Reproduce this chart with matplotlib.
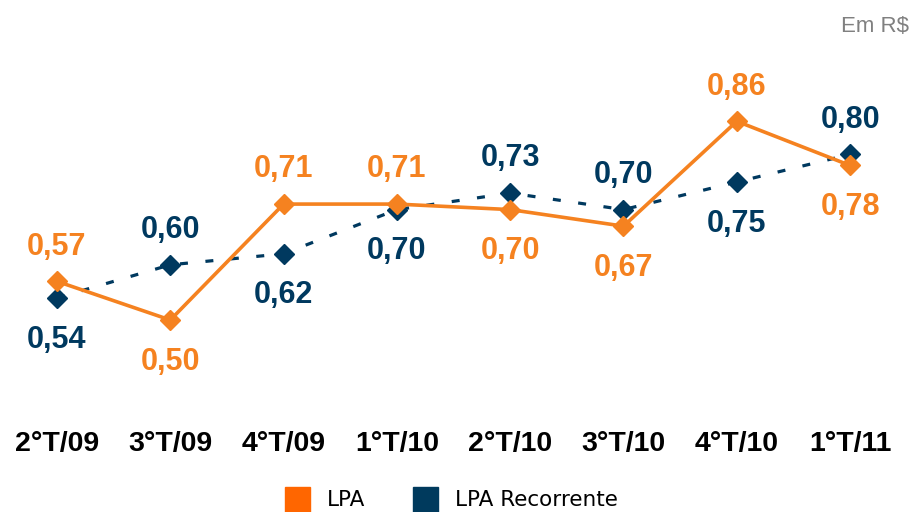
import matplotlib.pyplot as plt
from matplotlib.lines import Line2D

# dados
trimestres = ['2°T/09', '3°T/09', '4°T/09', '1°T/10', '2°T/10', '3°T/10', '4°T/10', '1°T/11']
lpa = [0.57, 0.50, 0.71, 0.71, 0.70, 0.67, 0.86, 0.78]
lpa_recorrente = [0.54, 0.60, 0.62, 0.70, 0.73, 0.70, 0.75, 0.80]

# posicao dos rotulos: 1 = acima, -1 = abaixo
lado_lpa = [1, -1, 1, 1, -1, -1, 1, -1]
lado_rec = [-1, 1, -1, -1, 1, 1, -1, 1]

laranja = '#F58220'
azul = '#00395F'

plt.rcParams['font.family'] = ['Liberation Sans', 'DejaVu Sans']

fig = plt.figure(figsize=(9.15, 5.12), dpi=100)
ax = fig.add_axes([0, 0, 1, 1])
ax.set_xlim(-0.503, 7.573)
ax.set_ylim(0.1522, 1.0797)
ax.axis('off')

x = list(range(len(trimestres)))

ax.plot(x, lpa_recorrente, color=azul, lw=2.3, linestyle=(0, (2.5, 5.5)),
        marker='D', markersize=10.5, zorder=2)
ax.plot(x, lpa, color=laranja, lw=2.6, marker='D', markersize=10.5, zorder=3)

def rotulos(valores, lados, cor):
    for i, v in enumerate(valores):
        dy = 25 if lados[i] > 0 else -30
        ax.annotate(f'{v:.2f}'.replace('.', ','), (i, v), xytext=(0, dy),
                    textcoords='offset points', ha='center', va='center',
                    fontsize=22, fontweight='bold', color=cor)

rotulos(lpa, lado_lpa, laranja)
rotulos(lpa_recorrente, lado_rec, azul)

# eixo x
for i, t in enumerate(trimestres):
    ax.text(i, 0.133, t, transform=ax.get_xaxis_transform(), ha='center', va='center',
            fontsize=20.5, fontweight='bold', color='black')

fig.text(0.993, 0.948, 'Em R$', ha='right', va='center', fontsize=16, color='#808080')

handles = [Line2D([], [], color='#FF6600', marker='s', markersize=18, linestyle='none'),
           Line2D([], [], color='#003A5D', marker='s', markersize=18, linestyle='none')]
fig.legend(handles, ['LPA', 'LPA Recorrente'], loc='center', bbox_to_anchor=(0.493, 0.023),
           ncol=2, frameon=False, handlelength=1.15, handletextpad=0.8, columnspacing=2.2,
           prop={'family': 'DejaVu Sans', 'size': 15.5}, borderpad=0)

fig.savefig('out.png', dpi=100)
